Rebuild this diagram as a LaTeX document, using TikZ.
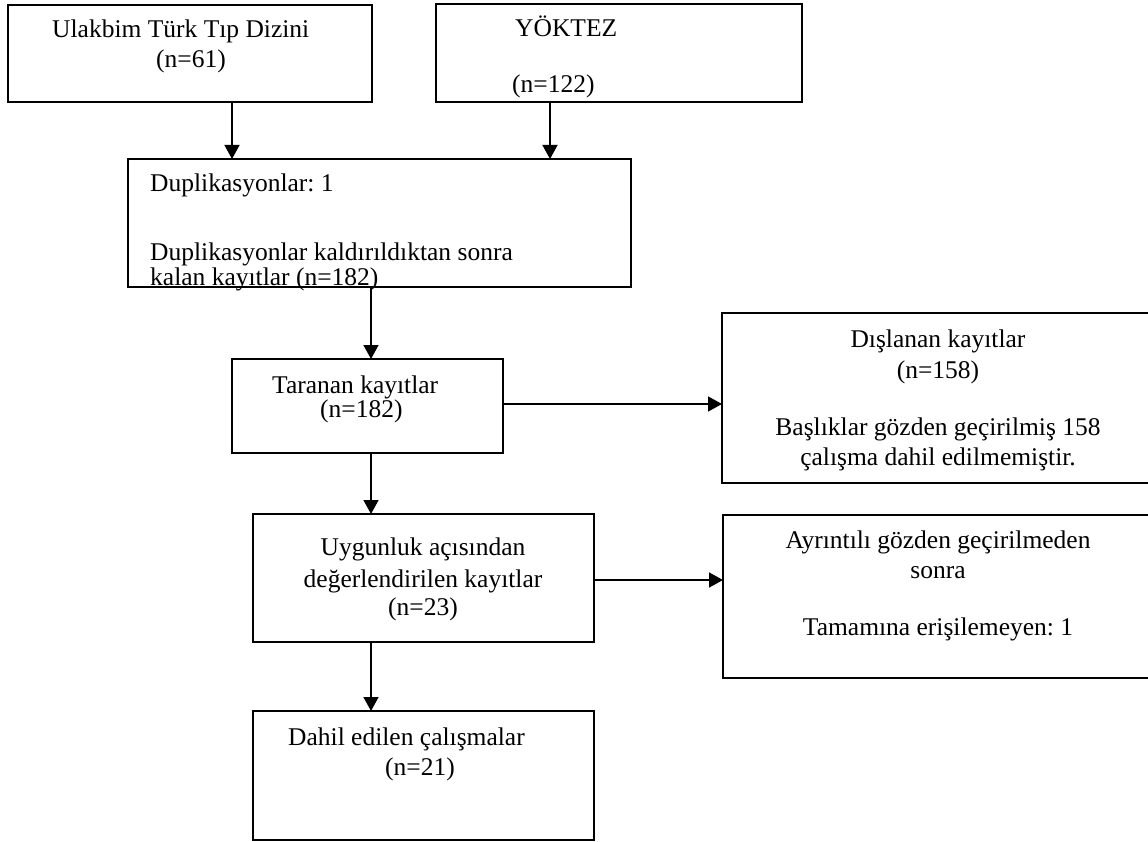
\documentclass[tikz,border=0pt]{standalone}
\usepackage{fontspec}
\setmainfont{Liberation Serif}
\usetikzlibrary{arrows.meta}
\frenchspacing
\tikzset{
  box/.style={draw=black, line width=1.5pt, anchor=north west, inner sep=0pt, outer sep=0pt},
  txtl/.style={anchor=base west, inner sep=0pt, font=\fontsize{25.5}{30}\selectfont},
  txtc/.style={anchor=base, inner sep=0pt, font=\fontsize{25.5}{30}\selectfont},
  arr/.style={draw=black, line width=1.5pt, -{Triangle[length=14pt,width=15pt]}}
}
\begin{document}
\begin{tikzpicture}[x=1pt,y=-1pt]
\useasboundingbox (0,0) rectangle (1148,842);
\clip (0,0) rectangle (1148,842);
% boxes
\node[box, minimum width=364pt, minimum height=97pt] (A) at (8,5) {};
\node[box, minimum width=366pt, minimum height=98pt] (B) at (436,4) {};
\node[box, minimum width=503pt, minimum height=128pt] (C) at (128,159) {};
\node[box, minimum width=271pt, minimum height=94pt] (D) at (232,359) {};
\node[box, minimum width=440pt, minimum height=170pt] (E) at (722,313) {};
\node[box, minimum width=341pt, minimum height=128pt] (F) at (253,514) {};
\node[box, minimum width=440pt, minimum height=163pt] (G) at (723,515) {};
\node[box, minimum width=341pt, minimum height=129pt] (H) at (253,711) {};
% texts
\node[txtl] (a1) at (52,38) {Ulakbim Türk Tıp Dizini};
\node[txtl] (a2) at (156,68) {(n=61)};
\node[txtl] (b1) at (515,37) {YÖKTEZ};
\node[txtl] (b2) at (512,93) {(n=122)};
\node[txtl] (c1) at (150,192) {Duplikasyonlar: 1};
\node[txtl] (c2) at (150,261) {Duplikasyonlar kaldırıldıktan sonra};
\node[txtl] (c3) at (150,285) {kalan kayıtlar (n=182)};
\node[txtl] (d1) at (272,393) {Taranan kayıtlar};
\node[txtl] (d2) at (320,417) {(n=182)};
\node[txtc] (e1) at (938,347) {Dışlanan kayıtlar};
\node[txtc] (e2) at (938,378) {(n=158)};
\node[txtc] (e3) at (938,435) {Başlıklar gözden geçirilmiş 158};
\node[txtc] (e4) at (938,465) {çalışma dahil edilmemiştir.};
\node[txtc] (f1) at (423,555) {Uygunluk açısından};
\node[txtc] (f2) at (423,587) {değerlendirilen kayıtlar};
\node[txtc] (f3) at (423,615) {(n=23)};
\node[txtc] (g1) at (938,548) {Ayrıntılı gözden geçirilmeden};
\node[txtc] (g2) at (938,578) {sonra};
\node[txtc] (g3) at (938,635) {Tamamına erişilemeyen: 1};
\node[txtl] (h1) at (288,745) {Dahil edilen çalışmalar};
\node[txtl] (h2) at (385,775) {(n=21)};
% connector guides
\coordinate (xa) at (232,0);
\coordinate (xb) at (550,0);
\coordinate (xm) at (371,0);
\coordinate (yd) at (0,404);
\coordinate (yf) at (0,580);
% connectors
\draw[arr] (A.south -| xa) -- (C.north -| xa);
\draw[arr] (B.south -| xb) -- (C.north -| xb);
\draw[arr] (C.south -| xm) -- (D.north -| xm);
\draw[arr] (D.east |- yd) -- (E.west |- yd);
\draw[arr] (D.south -| xm) -- (F.north -| xm);
\draw[arr] (F.east |- yf) -- (G.west |- yf);
\draw[arr] (F.south -| xm) -- (H.north -| xm);
\end{tikzpicture}
\end{document}
